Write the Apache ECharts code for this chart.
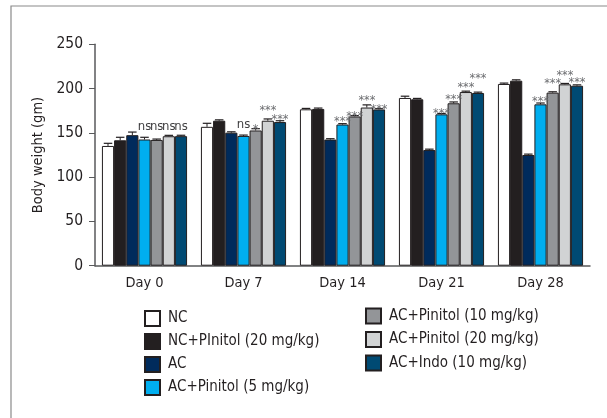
<!DOCTYPE html>
<html><head><meta charset="utf-8">
<script src="https://cdn.jsdelivr.net/npm/echarts@6/dist/echarts.min.js"></script>
<style>html,body{margin:0;padding:0;background:#fff}#c{width:607px;height:418px}</style>
</head><body><div id="c"></div>
<script>
const categories = ['Day 0','Day 7','Day 14','Day 21','Day 28'];
const seriesNames = ['NC','NC+PInitol (20 mg/kg)','AC','AC+Pinitol (5 mg/kg)','AC+Pinitol (10 mg/kg)','AC+Pinitol (20 mg/kg)','AC+Indo (10 mg/kg)'];
const colors = ['#ffffff','#231f20','#002b5c','#00aeef','#939598','#d1d3d4','#004a73'];
const vNC    = [135.2, 156.8, 176.6, 189.4, 205.2];
const vNCP   = [141.6, 163.7, 177.0, 187.9, 208.9];
const vAC    = [147.4, 150.2, 142.4, 130.6, 125.0];
const vP5    = [142.5, 146.5, 159.4, 170.9, 182.2];
const vP10   = [142.0, 152.7, 168.5, 183.4, 195.4];
const vP20   = [146.2, 163.7, 178.6, 196.1, 204.8];
const vIndo  = [146.3, 162.2, 176.4, 195.0, 203.2];
const eNC    = [3, 4, 1, 2, 1];
const eNCP   = [3.4, 1, 1, 1, 1];
const eAC    = [3.5, 1, 1, 1, 1];
const eP5    = [2.5, 1, 1, 1, 1.5];
const eP10   = [1, 2, 1, 1.5, 1];
const eP20   = [1, 2, 3, 1, 1];
const eIndo  = [1, 1.5, 1, 1, 1];
const sNC    = ['', '', '', '', ''];
const sNCP   = ['', '', '', '', ''];
const sAC    = ['', '', '', '', ''];
const sP5    = ['ns', 'ns', '***', '***', '***'];
const sP10   = ['ns', '*', '***', '***', '***'];
const sP20   = ['ns', '***', '***', '***', '***'];
const sIndo  = ['ns', '***', '***', '***', '***'];
const yTicks = [0, 50, 100, 150, 200, 250];

const values = [vNC, vNCP, vAC, vP5, vP10, vP20, vIndo];
const errors = [eNC, eNCP, eAC, eP5, eP10, eP20, eIndo];
const sigs = [sNC, sNCP, sAC, sP5, sP10, sP20, sIndo];

// annotation placement (px above bar top), layout only
const sigLift = [
  [0,0,0,0,0],[0,0,0,0,0],[0,0,0,0,0],
  [11.5, 10, 6, 4, 5.6],
  [12, 4, 3.2, 6.7, 11.7],
  [8.3, 13, 9.8, 7.7, 11.6],
  [8.3, 5.6, 3, 17.6, 5.7]
];
const FONT = "'DejaVu Sans Condensed','DejaVu Sans',sans-serif";
const GAP = 0.14;
const N = seriesNames.length;

const series = [];
values.forEach((v, i) => {
  series.push({
    name: seriesNames[i], type: 'bar', data: v,
    barGap: '0%', barCategoryGap: (GAP*100) + '%',
    itemStyle: { color: colors[i], borderColor: '#231f20', borderWidth: 1 },
    z: 2
  });
});
values.forEach((v, i) => {
  series.push({
    type: 'custom', z: 5, silent: true,
    data: v.map((val, k) => [k, val, errors[i][k]]),
    renderItem: function (params, api) {
      const k = api.value(0), val = api.value(1), err = api.value(2);
      const sig = sigs[i][k];
      const band = api.size([1, 0])[0];
      const bw = band * (1 - GAP) / N;
      const c = api.coord([k, val]);
      const cx = c[0] - band * (1 - GAP) / 2 + (i + 0.5) * bw;
      const yTop = api.coord([k, val + err])[1];
      const yv = c[1];
      const cap = bw * 0.35;
      const children = [
        { type: 'line', shape: { x1: cx, y1: yv, x2: cx, y2: yTop }, style: { stroke: '#231f20', lineWidth: 1 } },
        { type: 'line', shape: { x1: cx - cap, y1: yTop, x2: cx + cap, y2: yTop }, style: { stroke: '#231f20', lineWidth: 1.2 } }
      ];
      if (sig) {
        const isStar = sig.indexOf('*') >= 0;
        const fs = isStar ? 12.5 : 13;
        const yc = yv - sigLift[i][k] + (isStar ? 0.24 * fs : -1);
        children.push({
          type: 'text',
          style: {
            text: sig, x: cx, y: yc,
            align: 'center', verticalAlign: 'middle',
            font: fs + 'px ' + FONT,
            fill: isStar ? '#6d6e71' : '#414042'
          }
        });
      }
      return { type: 'group', children: children };
    }
  });
});

const legendText = { fontFamily: FONT, fontSize: 15, color: '#231f20', padding: [0, 0, 0, 3] };
const chart = echarts.init(document.getElementById('c'), null, { renderer: 'canvas' });
chart.setOption({
  animation: false,
  backgroundColor: '#fff',
  textStyle: { fontFamily: FONT },
  graphic: [{
    type: 'rect', shape: { x: 11, y: 6, width: 800, height: 600 },
    style: { fill: 'none', stroke: '#8a8a8a', lineWidth: 1.2 }, silent: true, z: -1
  }],
  grid: { left: 95, right: 17, top: 44.3, bottom: 152.3 },
  legend: [{
    data: seriesNames.slice(0, 4), orient: 'vertical', left: 144, top: 310, padding: 0,
    icon: 'rect', itemWidth: 15, itemHeight: 15, itemGap: 6, selectedMode: false,
    textStyle: legendText
  }, {
    data: seriesNames.slice(4), orient: 'vertical', left: 365, top: 307.5, padding: 0,
    icon: 'rect', itemWidth: 15, itemHeight: 15, itemGap: 6.5, selectedMode: false,
    textStyle: legendText
  }],
  xAxis: {
    type: 'category', data: categories,
    axisLine: { lineStyle: { color: '#58595b', width: 1.5 } },
    axisTick: { alignWithLabel: true, length: 4, lineStyle: { color: '#58595b' } },
    axisLabel: { fontFamily: FONT, fontSize: 14.5, color: '#231f20', margin: 10 }
  },
  yAxis: {
    type: 'value', min: 0, max: 250, interval: 50,
    name: 'Body weight (gm)', nameLocation: 'middle', nameGap: 49,
    nameTextStyle: { fontFamily: FONT, fontSize: 14.5, color: '#231f20' },
    axisLine: { show: true, lineStyle: { color: '#58595b', width: 1.5 } },
    axisTick: { show: true, length: 6, lineStyle: { color: '#58595b' } },
    splitLine: { show: false },
    axisLabel: { fontFamily: FONT, fontSize: 15.5, color: '#231f20', margin: 12,
      formatter: function (v) { return yTicks.indexOf(v) >= 0 ? String(v) : ''; } }
  },
  series: series
});
</script></body></html>
